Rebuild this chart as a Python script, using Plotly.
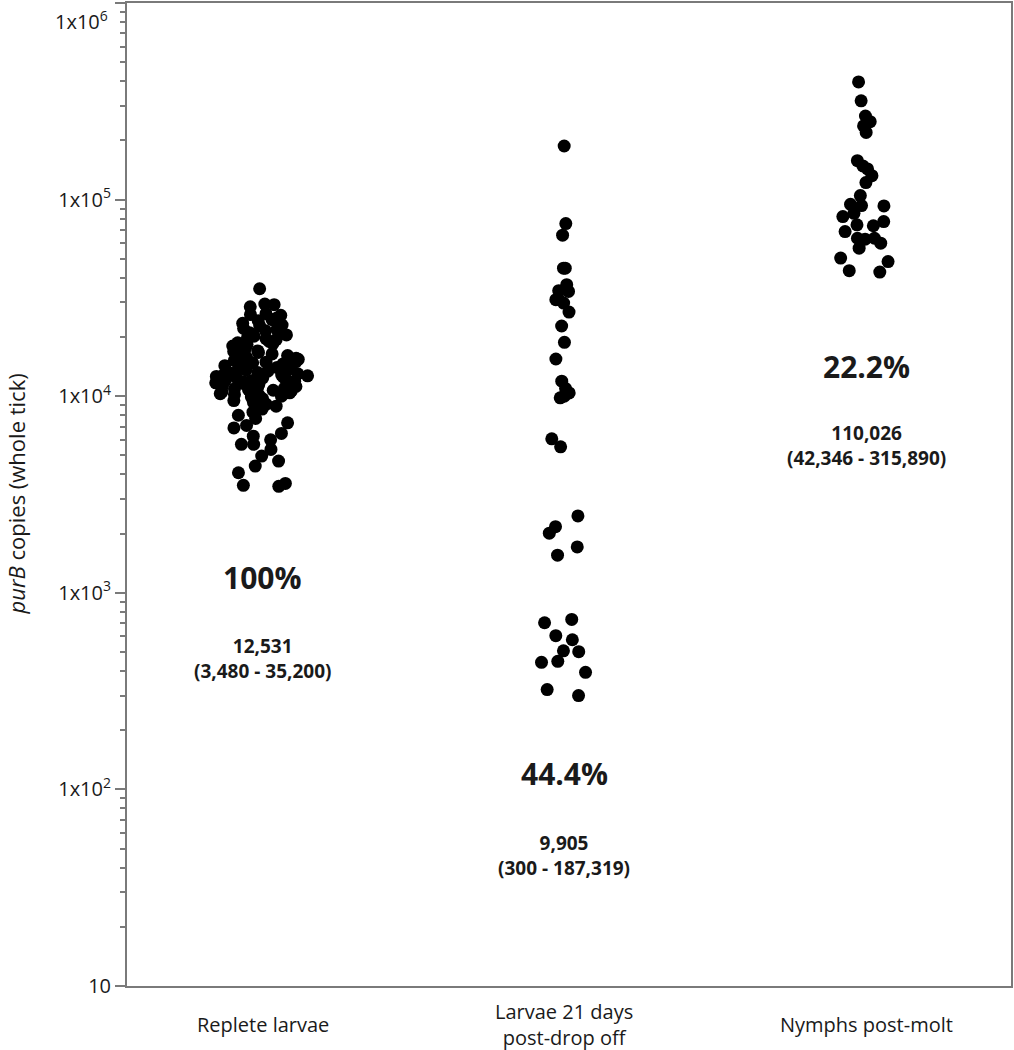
import plotly.graph_objects as go

# ---------------- data ----------------
categories = ["Replete larvae", "Larvae 21 days<br>post-drop off", "Nymphs post-molt"]

replete_larvae = [
    35200, 29400, 29200, 28500, 26300, 26000, 25800, 25000, 24500, 24200, 23500, 23000, 22800, 22100,
    21800, 21500, 21000, 20500, 20200,
    19800, 19600, 19400, 19000, 18700, 18500, 18300, 18000, 17700, 17500, 17300, 17000, 16900, 16700,
    16400, 16100,
    15800, 15600, 15500, 15400, 15200, 15000, 14900, 14800, 14600, 14400, 14300, 14200, 14000, 13800,
    13700, 13600, 13400, 13200, 13100, 13000,
    12900, 12800, 12700, 12600, 12531, 12400, 12300, 12200, 12100, 12000, 11800, 11600, 11400, 11200, 11000,
    11900, 11700, 11500, 11300, 11100, 10800, 10600, 10400, 10200, 10000,
    10900, 10720, 10520, 10300, 10100, 9900, 9700, 9500, 9300, 9100,
    8900, 8600, 8290, 8000, 7700, 7320, 7100,
    6900, 6470, 6265, 6000, 5690, 5690, 5360, 4960, 4680, 4410, 4080, 3600, 3520, 3480,
]

larvae_21d = [
    187319, 75500, 65900, 44800, 44800, 36900, 34400, 34100, 30970, 30970,
    29760, 26790, 22750, 18800, 15460, 11920, 10940, 10390, 10000, 9810,
    6070, 5530, 2460, 2170, 2010, 1712, 1553, 732, 704, 605,
    577, 502, 507, 443, 448, 394, 322, 300,
]

nymphs = [
    397000, 318000, 266000, 249000, 237000, 219600, 157800, 148300, 143200, 132400,
    122000, 104800, 92900, 94600, 93200, 82000, 85200, 77300, 74400, 73600,
    68800, 62900, 63600, 63600, 60000, 56600, 50400, 48400, 43500, 42800,
]

percent_labels = ["100%", "44.4%", "22.2%"]
median_labels = ["12,531", "9,905", "110,026"]
range_labels = ["(3,480 - 35,200)", "(300 - 187,319)", "(42,346 - 315,890)"]

y_tickvals = [10, 100, 1000, 10000, 100000, 1000000]
y_ticktext = ["10", "1x10<sup>2</sup>", "1x10<sup>3</sup>", "1x10<sup>4</sup>", "1x10<sup>5</sup>", ""]
minor_vals = [m * 10 ** k for k in range(1, 6) for m in range(2, 10)]

# ---------------- styling ----------------
FONT = "Open Sans"
AXIS_GRAY = "#7a7a7a"
TEXT = "#1a1a1a"

groups = [replete_larvae, larvae_21d, nymphs]
jitters = [0.8, 0.45, 0.5]

fig = go.Figure()
for cat, vals, jit in zip(categories, groups, jitters):
    fig.add_trace(go.Box(
        x=[cat] * len(vals), y=vals,
        boxpoints="all", jitter=jit, pointpos=0, width=0.4,
        fillcolor="rgba(0,0,0,0)",
        line=dict(color="rgba(0,0,0,0)", width=0),
        marker=dict(color="black", size=13, line=dict(width=0)),
        hoveron="points", showlegend=False,
    ))

annotations = []
# category labels
for i, cat in enumerate(categories):
    annotations.append(dict(
        x=i, xref="x", y=0, yref="paper", yanchor="middle", xanchor="center",
        yshift=-38, text=cat, showarrow=False,
        font=dict(family=FONT, size=20, color=TEXT),
    ))

pct_y = [0.416, 0.2165, 0.6305]
stat_y = [0.333, 0.133, 0.5503]
for i in range(3):
    annotations.append(dict(
        x=i, xref="x", y=pct_y[i], yref="paper", xanchor="center", yanchor="middle",
        text=f"<b>{percent_labels[i]}</b>", showarrow=False,
        font=dict(family=FONT, size=30, color=TEXT),
    ))
    annotations.append(dict(
        x=i, xref="x", y=stat_y[i], yref="paper", xanchor="center", yanchor="middle",
        text=f"<b>{median_labels[i]}</b><br><b>{range_labels[i]}</b>", showarrow=False,
        font=dict(family=FONT, size=19, color=TEXT),
    ))

# top tick label (shifted down so it stays inside the page)
annotations.append(dict(
    x=0, xref="paper", y=1, yref="paper", xanchor="right", yanchor="middle",
    xshift=-17, yshift=-17, text="1x10<sup>6</sup>", showarrow=False,
    font=dict(family=FONT, size=20, color=TEXT),
))
# y axis title
annotations.append(dict(
    x=0, xref="paper", y=0.5, yref="paper", xanchor="center", yanchor="middle",
    xshift=-112, textangle=-90, text="<i>purB</i> copies (whole tick)", showarrow=False,
    font=dict(family=FONT, size=22, color=TEXT),
))

fig.update_layout(
    width=1014, height=1050,
    margin=dict(l=127, r=2, t=1, b=64),
    paper_bgcolor="white", plot_bgcolor="white",
    font=dict(family=FONT, color=TEXT),
    annotations=annotations,
    xaxis=dict(
        type="category", range=[-0.45, 2.48],
        showticklabels=False, ticks="",
        showline=True, mirror=True, linecolor=AXIS_GRAY, linewidth=2,
        showgrid=False, zeroline=False, fixedrange=True,
    ),
    yaxis=dict(
        type="log", range=[1, 6],
        tickmode="array", tickvals=y_tickvals, ticktext=y_ticktext,
        ticks="outside", ticklen=10, tickwidth=2, tickcolor=AXIS_GRAY,
        tickfont=dict(family=FONT, size=20, color=TEXT),
        minor=dict(tickmode="array", tickvals=minor_vals, ticks="outside",
                   ticklen=5, tickwidth=1.5, tickcolor=AXIS_GRAY, showgrid=False),
        showline=True, mirror=True, linecolor=AXIS_GRAY, linewidth=2,
        showgrid=False, zeroline=False,
    ),
)

fig.write_html(
    "out.html",
    config={"displayModeBar": False},
    post_script="document.body.style.margin='0';document.body.style.overflow='hidden';",
)
